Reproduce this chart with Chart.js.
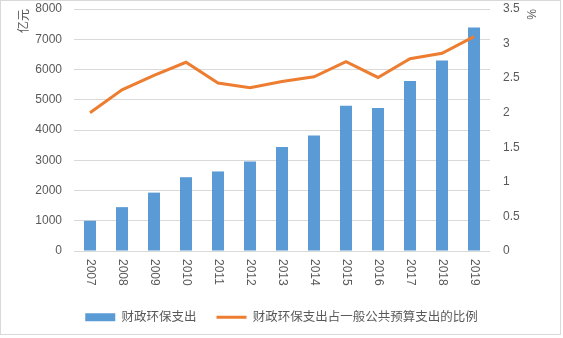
<!DOCTYPE html>
<html>
<head>
  <meta charset="utf-8">
  <style>
    body { margin: 0; background: #fff; }
    .chart-container { position: relative; width: 563px; height: 338px; }
    #envChart { position: absolute; left: 0; top: 0; }
    .frame {
      position: absolute; left: 0; top: 0; width: 561px; height: 335px;
      border: 1px solid #d9d9d9; box-sizing: border-box; pointer-events: none;
    }
  </style>
  <script src="https://cdn.jsdelivr.net/npm/chart.js"></script>
</head>
<body>
  <div class="chart-container">
    <canvas id="envChart" width="563" height="338"></canvas>
    <div class="frame"></div>
  </div>

  <script>
    const years = ['2007', '2008', '2009', '2010', '2011', '2012', '2013', '2014', '2015', '2016', '2017', '2018', '2019'];
    // 财政环保支出, 亿元
    const spending = [1000, 1450, 1930, 2440, 2630, 2960, 3440, 3820, 4800, 4730, 5620, 6300, 7390];
    // 占一般公共预算支出的比例, %
    const ratio = [2.00, 2.33, 2.54, 2.73, 2.43, 2.36, 2.45, 2.52, 2.74, 2.51, 2.78, 2.86, 3.10];
    const leftAxis = { min: 0, max: 8000, step: 1000, title: '亿元' };
    const rightAxis = { min: 0, max: 3.5, step: 0.5, title: '%' };

    const textColor = '#595959';
    const gridColor = '#d9d9d9';
    const fontFamily = '"Liberation Sans", "Noto Sans CJK SC", sans-serif';

    // x labels read top to bottom (rotated clockwise), so draw them ourselves
    const xLabelPlugin = {
      id: 'xLabels',
      afterDraw(chart) {
        const scale = chart.scales.x;
        const ctx = chart.ctx;
        ctx.save();
        ctx.fillStyle = textColor;
        ctx.font = '12px ' + fontFamily;
        ctx.textAlign = 'left';
        ctx.textBaseline = 'middle';
        scale.ticks.forEach((t, i) => {
          const x = scale.getPixelForTick(i);
          ctx.save();
          ctx.translate(x, scale.top + 8);
          ctx.rotate(Math.PI / 2);
          ctx.fillText(years[i], 0, 0);
          ctx.restore();
        });
        ctx.restore();
      }
    };

    const ctx = document.getElementById('envChart').getContext('2d');
    new Chart(ctx, {
      type: 'bar',
      data: {
        labels: years,
        datasets: [{
          type: 'bar',
          label: '财政环保支出',
          data: spending,
          backgroundColor: '#5b9bd5',
          yAxisID: 'y',
          order: 1,
          barPercentage: 0.375,
          categoryPercentage: 1,
          pointStyle: 'rect'
        }, {
          type: 'line',
          label: '财政环保支出占一般公共预算支出的比例',
          data: ratio,
          borderColor: '#ed7d31',
          backgroundColor: '#ed7d31',
          borderWidth: 3,
          pointRadius: 0,
          tension: 0,
          yAxisID: 'y1',
          order: 0,
          pointStyle: 'line'
        }]
      },
      options: {
        responsive: false,
        animation: false,
        layout: { autoPadding: false, padding: { top: 9, left: 0, right: 0, bottom: 4.5 } },
        scales: {
          x: {
            grid: { display: false },
            border: { display: false },
            ticks: { color: 'rgba(0,0,0,0)', minRotation: 90, maxRotation: 90, font: { size: 12, family: fontFamily } },
            afterFit(scale) { scale.height = 40; }
          },
          y: {
            position: 'left',
            min: leftAxis.min,
            max: leftAxis.max,
            ticks: {
              stepSize: leftAxis.step, color: textColor, padding: 0, font: { size: 12, family: fontFamily },
              callback: (v) => String(v)
            },
            grid: { color: gridColor, tickLength: 12, tickColor: 'rgba(0,0,0,0)' },
            border: { display: false },
            title: {
              display: true, text: leftAxis.title, align: 'end', color: textColor,
              font: { size: 12, family: fontFamily }, padding: { top: 17, bottom: 0 }
            },
            afterFit(scale) { scale.width = 74; }
          },
          y1: {
            position: 'right',
            min: rightAxis.min,
            max: rightAxis.max,
            ticks: {
              stepSize: rightAxis.step, color: textColor, padding: 0, font: { size: 12, family: fontFamily },
              callback: (v) => String(v)
            },
            grid: { drawOnChartArea: false, tickLength: 13, tickColor: 'rgba(0,0,0,0)' },
            border: { display: false },
            title: {
              display: true, text: rightAxis.title, align: 'end', color: textColor,
              font: { size: 12, family: fontFamily }, padding: { top: 25, bottom: 0 }
            },
            afterFit(scale) { scale.width = 73; }
          }
        },
        plugins: {
          legend: {
            position: 'bottom',
            labels: {
              usePointStyle: true,
              pointStyleWidth: 30,
              boxHeight: 8,
              color: textColor,
              padding: 20,
              font: { size: 12.5, family: fontFamily },
              sort: (a, b) => a.datasetIndex - b.datasetIndex
            }
          },
          tooltip: { enabled: false }
        }
      },
      plugins: [xLabelPlugin]
    });
  </script>
</body>
</html>
